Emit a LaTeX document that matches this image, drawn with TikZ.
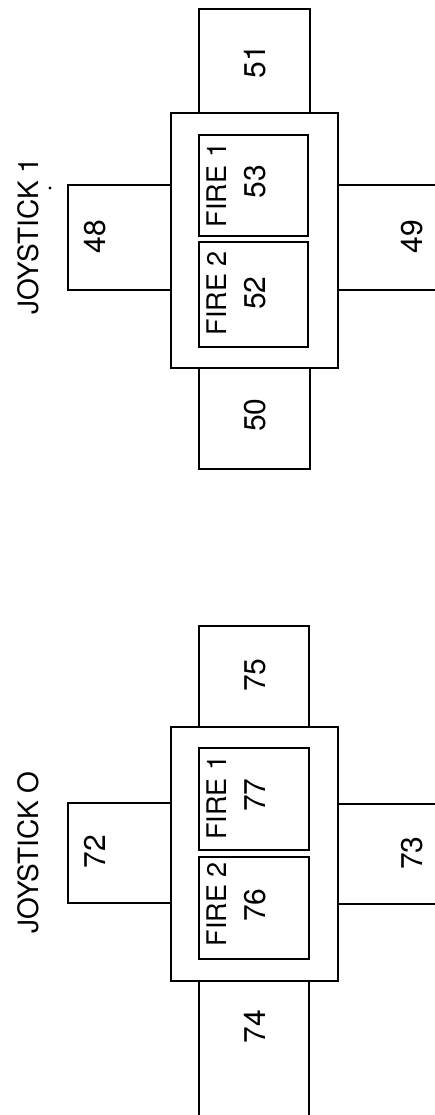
\documentclass[tikz,border=0pt]{standalone}
\usepackage{fontspec}
\setmainfont{TeX Gyre Heros}
\begin{document}
\begin{tikzpicture}[x=1pt,y=-1pt,
  box/.style={draw=black,line width=2pt,rectangle,inner sep=0pt,outer sep=0pt},
  num/.style={rotate=90,inner sep=0pt,font=\fontsize{30}{32}\selectfont},
  lbl/.style={rotate=90,inner sep=0pt,font=\fontsize{27}{30}\selectfont},
  title/.style={rotate=90,inner sep=0pt,font=\fontsize{28}{30}\selectfont}]
\useasboundingbox (0,0) rectangle (435,1115);
\clip (0,0) rectangle (435,1115);
% ---------- Joystick 1 ----------
\node[box,minimum width=110.7pt,minimum height=104pt] (b51) at (254.65,61.3) {};
\node[box,minimum width=166.7pt,minimum height=254.4pt] (outer1) at (254.35,240.5) {};
\node[box,minimum width=109pt,minimum height=100.7pt] (f53) at (253.8,185.35) {};
\node[box,minimum width=109pt,minimum height=105pt] (f52) at (253.8,294.2) {};
\node[box,minimum width=102.7pt,minimum height=105pt] (b48) at (119.65,237.5) {};
\node[box,minimum width=107.3pt,minimum height=105pt] (b49) at (391.35,237.5) {};
\node[box,minimum width=110.7pt,minimum height=101.6pt] (b50) at (254.65,418.5) {};
\node[title] (t1) at (28,236) {JOYSTICK 1};
\fill (50,188) circle (1.6pt);
\node[num] (n51) at (255,62) {51};
\node[lbl] (l53) at (217,185) {FIRE 1};
\node[num] (n53) at (255,182) {53};
\node[lbl] (l52) at (217,293) {FIRE 2};
\node[num] (n52) at (255,293) {52};
\node[num] (n48) at (95,237) {48};
\node[num] (n49) at (412,237) {49};
\node[num] (n50) at (255,415) {50};
% ---------- Joystick 0 ----------
\node[box,minimum width=110.3pt,minimum height=100.7pt] (b75) at (254.15,676.35) {};
\node[box,minimum width=166.7pt,minimum height=254pt] (outer0) at (254.35,853.7) {};
\node[box,minimum width=110pt,minimum height=101.7pt] (f77) at (254,799.15) {};
\node[box,minimum width=110pt,minimum height=101.7pt] (f76) at (254,908.15) {};
\node[box,minimum width=103.3pt,minimum height=99.4pt] (b72) at (119.35,853) {};
\node[box,minimum width=107.3pt,minimum height=100pt] (b73) at (391.35,854) {};
\node[box,minimum width=110.3pt,minimum height=144.3pt] (b74) at (254.15,1052.85) {};
\node[title] (t0) at (28,852.5) {JOYSTICK O};
\node[num] (n75) at (255,675) {75};
\node[lbl] (l77) at (217,797.5) {FIRE 1};
\node[num] (n77) at (255,795) {77};
\node[lbl] (l76) at (217,904) {FIRE 2};
\node[num] (n76) at (255,905) {76};
\node[num] (n72) at (95,851.7) {72};
\node[num] (n73) at (412,853) {73};
\node[num] (n74) at (255,1026.7) {74};
\end{tikzpicture}
\end{document}
